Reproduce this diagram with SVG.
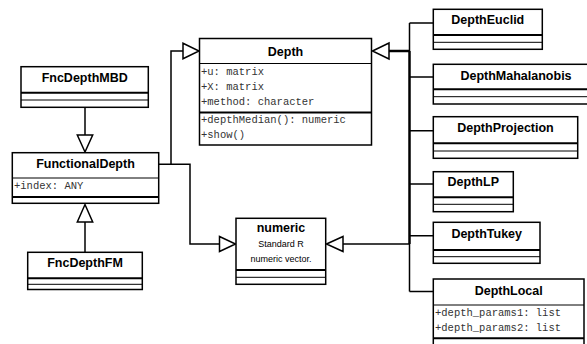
<svg xmlns="http://www.w3.org/2000/svg" width="587" height="344" viewBox="0 0 587 344">
<style>
.box{fill:#fff;stroke:#000;stroke-width:1.5}
.thin{stroke:#000;stroke-width:1}
.thick{stroke:#000;stroke-width:2}
.title{font-family:"Liberation Sans",Arial,sans-serif;font-weight:bold;font-size:12.5px;text-anchor:middle;fill:#000}
.attr{font-family:"Liberation Mono","Courier New",monospace;font-size:10.5px;fill:#333}
.note{font-family:"Liberation Sans",Arial,sans-serif;font-size:9px;text-anchor:middle;fill:#000}
.con{fill:none;stroke:#000;stroke-width:1.5}
.conThick{fill:none;stroke:#000;stroke-width:2.5}
.tri{fill:#fff;stroke:#000;stroke-width:1.5}
</style>
<rect width="587" height="344" fill="#fff"/>
<g id="connectors">
<path class="con" d="M158.7,164.3 H190 V244 H219.5"/>
<path class="con" d="M171,164.3 V51 H183"/>
<polygon class="tri" points="183,43.3 199,51 183,58.7"/>
<polygon class="tri" points="219.5,236.5 235.5,244 219.5,251.5"/>
<path class="con" d="M343,244 H409.5"/>
<polygon class="tri" points="326.5,244 343,236.5 343,251.5"/>
<path class="conThick" d="M389,51 H409.5"/>
<polygon class="tri" points="372.5,51 389,43 389,59"/>
<path class="con" d="M409.5,23 V51 M409.5,244 V291.5"/>
<path class="conThick" d="M409.5,51 V244"/>
<path class="con" d="M409.5,23 H433 M409.5,77 H433 M409.5,130.7 H433 M409.5,184 H433 M409.5,235.7 H433 M409.5,291.5 H433"/>
<path class="con" d="M85,107.3 V135"/>
<polygon class="tri" points="77.3,135 92.7,135 85,152"/>
<path class="con" d="M85,252.3 V222"/>
<polygon class="tri" points="77.3,222 92.7,222 85,204.5"/>
</g>
<g id="Depth">
<rect class="box" x="199.5" y="38.5" width="172" height="106.5"/>
<line class="thin" x1="199.5" y1="63.5" x2="371.5" y2="63.5"/>
<line class="thick" x1="199.5" y1="112.5" x2="371.5" y2="112.5"/>
<text class="title" x="285.5" y="55.5">Depth</text>
<text class="attr" x="201" y="75">+u: matrix</text>
<text class="attr" x="201" y="89.5">+X: matrix</text>
<text class="attr" x="201" y="104.5">+method: character</text>
<text class="attr" x="201" y="123">+depthMedian(): numeric</text>
<text class="attr" x="201" y="137.5">+show()</text>
</g>
<g id="FncDepthMBD">
<rect class="box" x="21" y="66.7" width="127.3" height="40.6"/>
<line class="thick" x1="21" y1="92.7" x2="148.3" y2="92.7"/>
<line class="thin" x1="21" y1="100" x2="148.3" y2="100"/>
<text class="title" x="84.7" y="82">FncDepthMBD</text>
</g>
<g id="FunctionalDepth">
<rect class="box" x="12.3" y="152.7" width="146.4" height="50.6"/>
<line class="thin" x1="12.3" y1="178" x2="158.7" y2="178"/>
<line class="thick" x1="12.3" y1="197" x2="158.7" y2="197"/>
<text class="title" x="85.5" y="168">FunctionalDepth</text>
<text class="attr" x="14" y="188.5">+index: ANY</text>
</g>
<g id="FncDepthFM">
<rect class="box" x="27.7" y="252.3" width="114.6" height="37.2"/>
<line class="thick" x1="27.7" y1="278.3" x2="142.3" y2="278.3"/>
<line class="thin" x1="27.7" y1="284.3" x2="142.3" y2="284.3"/>
<text class="title" x="85" y="267">FncDepthFM</text>
</g>
<g id="numeric">
<rect class="box" x="236" y="218.3" width="89.7" height="66"/>
<line class="thick" x1="236" y1="270" x2="325.7" y2="270"/>
<line class="thin" x1="236" y1="277.3" x2="325.7" y2="277.3"/>
<text class="title" x="281" y="232">numeric</text>
<text class="note" x="281" y="247">Standard R</text>
<text class="note" x="281" y="261.5">numeric vector.</text>
</g>
<g id="DepthEuclid">
<rect class="box" x="433.3" y="9.3" width="109" height="40"/>
<line class="thick" x1="433.3" y1="35" x2="542.3" y2="35"/>
<line class="thin" x1="433.3" y1="42.3" x2="542.3" y2="42.3"/>
<text class="title" x="487.8" y="24">DepthEuclid</text>
</g>
<g id="DepthMahalanobis">
<rect class="box" x="433.3" y="64.3" width="166" height="39.7"/>
<line class="thick" x1="433.3" y1="89.3" x2="599.3" y2="89.3"/>
<line class="thin" x1="433.3" y1="96.7" x2="599.3" y2="96.7"/>
<text class="title" x="516" y="79.5">DepthMahalanobis</text>
</g>
<g id="DepthProjection">
<rect class="box" x="433.3" y="116.7" width="144.4" height="41.6"/>
<line class="thick" x1="433.3" y1="143.3" x2="577.7" y2="143.3"/>
<line class="thin" x1="433.3" y1="151" x2="577.7" y2="151"/>
<text class="title" x="505.5" y="132">DepthProjection</text>
</g>
<g id="DepthLP">
<rect class="box" x="433.3" y="171.7" width="80" height="40"/>
<line class="thick" x1="433.3" y1="197.3" x2="513.3" y2="197.3"/>
<line class="thin" x1="433.3" y1="204.3" x2="513.3" y2="204.3"/>
<text class="title" x="473.3" y="185.5">DepthLP</text>
</g>
<g id="DepthTukey">
<rect class="box" x="433.3" y="222.3" width="106.7" height="41"/>
<line class="thick" x1="433.3" y1="250" x2="540" y2="250"/>
<line class="thin" x1="433.3" y1="256.7" x2="540" y2="256.7"/>
<text class="title" x="486.7" y="238">DepthTukey</text>
</g>
<g id="DepthLocal">
<rect class="box" x="433.3" y="279" width="150.7" height="66"/>
<line class="thin" x1="433.3" y1="305" x2="584" y2="305"/>
<line class="thick" x1="433.3" y1="338.3" x2="584" y2="338.3"/>
<text class="title" x="508.7" y="295">DepthLocal</text>
<text class="attr" x="435" y="316">+depth_params1: list</text>
<text class="attr" x="435" y="331">+depth_params2: list</text>
</g>
</svg>
